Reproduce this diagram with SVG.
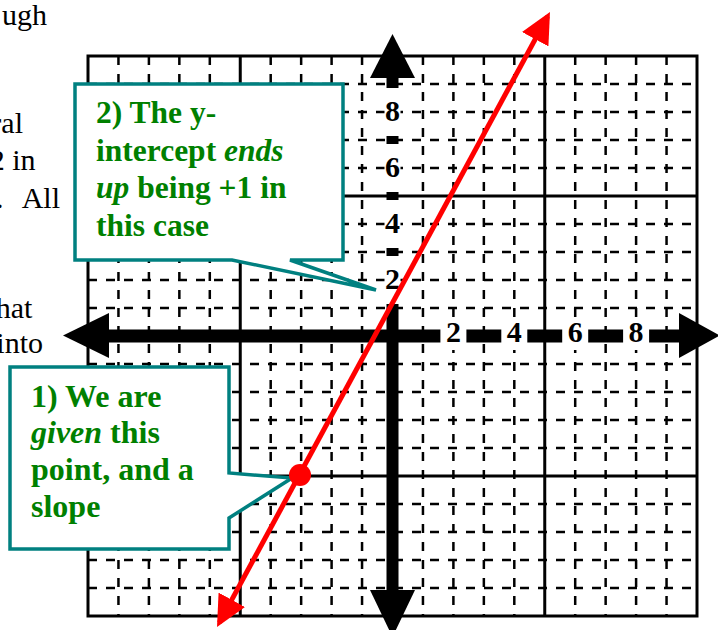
<svg xmlns="http://www.w3.org/2000/svg" width="718" height="630" viewBox="0 0 718 630">
<style>
.bg{font-family:"Liberation Serif","Times New Roman",serif;font-size:30px;fill:#000}
.minor{fill:none;stroke:#000;stroke-width:2.5;stroke-dasharray:9 9}
.major{fill:none;stroke:#000;stroke-width:3}
.lbl{font-family:"Liberation Serif","Times New Roman",serif;font-weight:bold;font-size:30px;fill:#000;text-anchor:middle}
.callout{fill:#fff;stroke:#008080;stroke-width:3.5;stroke-linejoin:miter}
.ct{font-family:"Liberation Serif","Times New Roman",serif;font-weight:bold;fill:#008000}
.it{font-style:italic}
.mask{fill:#fff}
</style>
<defs>
<marker id="redhead" markerUnits="userSpaceOnUse" markerWidth="32" markerHeight="30" refX="26" refY="15" orient="auto-start-reverse" viewBox="0 0 32 30">
<path d="M0,0 L31,15 L0,30 z" fill="#ff0000"/>
</marker>
</defs>
<rect width="718" height="630" fill="#fff"/>
<g id="bgtext">
<text class="bg" x="47" y="25" text-anchor="end">ugh</text>
<text class="bg" x="23" y="133" text-anchor="end">ral</text>
<text class="bg" x="35.5" y="170" text-anchor="end">2 in</text>
<text class="bg"><tspan x="-4" y="208">.</tspan><tspan x="21.7" y="208">All</tspan></text>
<text class="bg" x="32.3" y="318" text-anchor="end">hat</text>
<text class="bg" x="43" y="353" text-anchor="end">into</text>
</g>
<g id="grid">
<path class="minor" d="M118.45,56V616M148.9,56V616M179.35,56V616M209.8,56V616M270.7,56V616M301.15,56V616M331.6,56V616M362.05,56V616M422.95,56V616M453.4,56V616M483.85,56V616M514.3,56V616M575.2,56V616M605.65,56V616M636.1,56V616M666.55,56V616"/>
<path class="minor" d="M88,84H697M88,112H697M88,140H697M88,168H697M88,224H697M88,252H697M88,280H697M88,308H697M88,364H697M88,392H697M88,420H697M88,448H697M88,504H697M88,532H697M88,560H697M88,588H697"/>
<rect class="major" x="88" y="56" width="609" height="560"/>
<path class="major" d="M240.25,56V616M392.5,56V616M544.75,56V616M88,196H697M88,336H697M88,476H697"/>
</g>
<g id="callout2">
<polygon class="callout" points="75,84 343,84 343,260 290,260 376,290 232,260 75,260"/>
<text class="ct" font-size="31.5">
<tspan x="96" y="123">2) The y-</tspan>
<tspan x="96" y="160.5">intercept <tspan class="it">ends</tspan></tspan>
<tspan x="96" y="198"><tspan class="it">up</tspan> being +1 in</tspan>
<tspan x="96" y="235.5">this case</tspan>
</text>
</g>
<g id="callout1">
<polygon class="callout" points="10,367 229,367 229,473 292,478 229,518 229,549 10,549"/>
<text class="ct" font-size="32">
<tspan x="31" y="406.5">1) We are</tspan>
<tspan x="31" y="443"><tspan class="it">given</tspan> this</tspan>
<tspan x="31" y="480">point, and a</tspan>
<tspan x="31" y="516.5">slope</tspan>
</text>
</g>
<g id="axes">
<rect x="104" y="329.5" width="580" height="13" fill="#000"/>
<rect x="386.5" y="74" width="12" height="520" fill="#000"/>
<polygon points="392.5,34 415,78 370,78" fill="#000"/>
<polygon points="392.5,637 415,590 370,590" fill="#000"/>
<polygon points="63,335.5 109,313 109,358" fill="#000"/>
<polygon points="720,335.5 679,313 679,358" fill="#000"/>
<rect class="mask" x="440.4" y="322" width="26" height="28"/>
<rect class="mask" x="501.3" y="322" width="26" height="28"/>
<rect class="mask" x="562.2" y="322" width="26" height="28"/>
<rect class="mask" x="623.1" y="322" width="26" height="28"/>
<rect class="mask" x="384.5" y="88" width="16" height="48"/>
<rect class="mask" x="384.5" y="144" width="16" height="48"/>
<rect class="mask" x="384.5" y="200" width="16" height="48"/>
<rect class="mask" x="384.5" y="256" width="16" height="48"/>
<text class="lbl" x="453.4" y="342">2</text>
<text class="lbl" x="514.3" y="342">4</text>
<text class="lbl" x="575.2" y="342">6</text>
<text class="lbl" x="636.1" y="342">8</text>
<text class="lbl" x="392.5" y="121">8</text>
<text class="lbl" x="392.5" y="177">6</text>
<text class="lbl" x="392.5" y="233">4</text>
<text class="lbl" x="392.5" y="289">2</text>
</g>
<g id="connectors">
<line x1="219.4" y1="622.6" x2="547.6" y2="16.4" stroke="#ff0000" stroke-width="5" marker-start="url(#redhead)" marker-end="url(#redhead)"/>
</g>
<g id="point">
<circle cx="300" cy="475" r="11" fill="#ff0000"/>
</g>
</svg>
